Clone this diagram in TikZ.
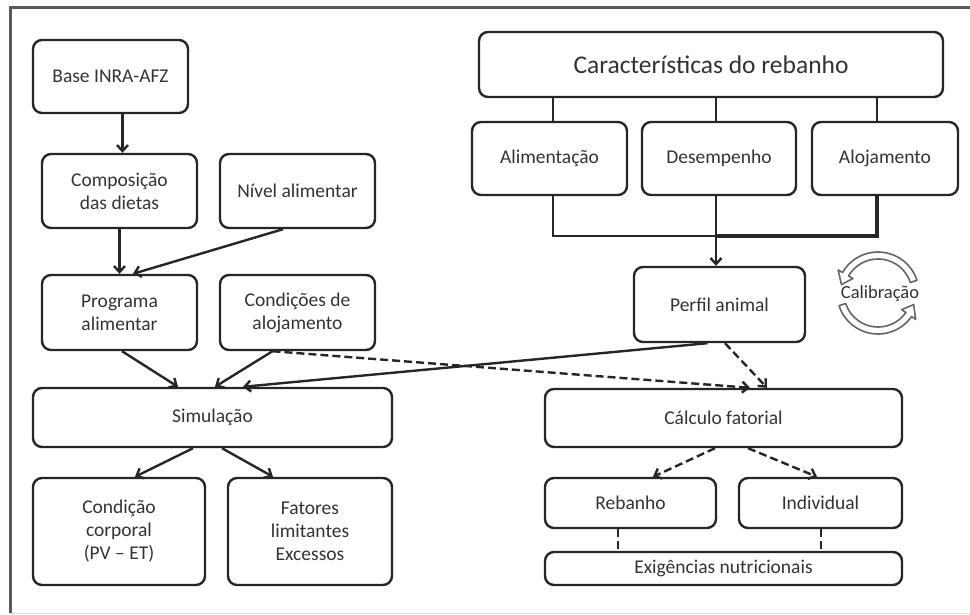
\documentclass[tikz,border=0pt]{standalone}
\usepackage{fontspec}
\setmainfont{Carlito}
\usetikzlibrary{calc, arrows.meta}
\definecolor{boxline}{HTML}{262626}
\definecolor{boxtext}{HTML}{333333}
\definecolor{framegray}{HTML}{5A5A5A}
\definecolor{calibgray}{HTML}{666666}
\tikzset{
	box/.style={draw=boxline, line width=2.4pt, rounded corners=9pt, text=boxtext, align=center, inner sep=0pt, font=\fontsize{19.5}{23}\selectfont},
	link/.style={draw=boxline, line width=2.4pt, -{Straight Barb[length=6pt, width=11pt, line width=2.4pt]}},
	plain/.style={draw=boxline, line width=2.4pt},
	dlink/.style={link, dash pattern=on 8pt off 4pt},
	calibarrow/.style={draw=calibgray, fill=white, line width=1.6pt, line join=round},
}

\begin{document}
\begin{tikzpicture}[x=1pt, y=-1pt]
	\useasboundingbox (0,0) rectangle (970,614);
	\draw[framegray, line width=3pt] (10,613) -- (10,7) -- (980,7);
	\draw[black!12, line width=1pt] (10,613) -- (980,613);

	% left column
	\node[box, minimum width=155pt, minimum height=73pt] (base) at (110.5,76.5) {Base INRA-AFZ};
	\node[box, minimum width=155pt, minimum height=74pt] (compo) at (119.5,191) {Composição\\das dietas};
	\node[box, minimum width=155pt, minimum height=74pt] (nivel) at (297.5,191) {Nível alimentar};
	\node[box, minimum width=155pt, minimum height=75pt] (prog) at (119.5,312.5) {Programa\\alimentar};
	\node[box, minimum width=155pt, minimum height=75pt] (cond) at (297.5,312.5) {Condições de\\alojamento};
	\node[box, minimum width=359pt, minimum height=59pt] (simul) at (212.5,417.5) {Simulação};
	\node[box, minimum width=172pt, minimum height=107pt] (corp) at (119,531.5) {Condição\\corporal\\(PV – ET)};
	\node[box, minimum width=164pt, minimum height=107pt] (fat) at (310,531.5) {Fatores\\limitantes\\Excessos};

	% right column
	\node[box, minimum width=464pt, minimum height=65pt, font=\fontsize{25.5}{30}\selectfont] (carac) at (711,64.5) {Características do rebanho};
	\node[box, minimum width=155pt, minimum height=73pt] (alim) at (549.5,158.5) {Alimentação};
	\node[box, minimum width=154pt, minimum height=73pt] (desemp) at (719,158.5) {Desempenho};
	\node[box, minimum width=146pt, minimum height=73pt] (aloj) at (885,158.5) {Alojamento};
	\node[box, minimum width=171pt, minimum height=75pt] (perfil) at (719.5,304.5) {Perfil animal};
	\node[box, minimum width=357pt, minimum height=58pt] (calc) at (723.5,418) {Cálculo fatorial};
	\node[box, minimum width=171pt, minimum height=50pt] (reb) at (630.5,503) {Rebanho};
	\node[box, minimum width=163pt, minimum height=50pt] (indiv) at (820.5,503) {Individual};
	\node[box, minimum width=357pt, minimum height=33pt] (exig) at (723.5,568.5) {Exigências nutricionais};

	% calibration loop
	\coordinate (calib) at (878,293);
	\draw[calibarrow] (calib) ++(18:41pt) arc[start angle=18, end angle=150, radius=41pt]
		-- ($(calib)+(150:46pt)$) -- ($(calib)+(167:37.5pt)$) -- ($(calib)+(150:29pt)$)
		-- ($(calib)+(150:34pt)$) arc[start angle=150, end angle=18, radius=34pt] -- cycle;
	\draw[calibarrow] (calib) ++(198:41pt) arc[start angle=198, end angle=325, radius=41pt]
		-- ($(calib)+(325:46pt)$) -- ($(calib)+(342:37.5pt)$) -- ($(calib)+(325:29pt)$)
		-- ($(calib)+(325:34pt)$) arc[start angle=325, end angle=198, radius=34pt] -- cycle;
	\node[text=boxtext, font=\fontsize{18.5}{22}\selectfont, inner sep=0pt] (calibtxt) at (880,294) {Calibração};

	% left connectors
	\draw[link] ([xshift=3pt]compo.north |- base.south) -- ([xshift=3pt]compo.north);
	\draw[link] (compo.south) -- (prog.north);
	\draw[link] ([xshift=-14.5pt]nivel.south) -- ([xshift=13.5pt]prog.north);
	\draw[link] ([xshift=2.5pt]prog.south) -- ([xshift=-34.5pt]simul.north);
	\draw[link] ([xshift=-25pt]cond.south) -- ([xshift=2.5pt]simul.north);
	\draw[link] ([xshift=-12pt]perfil.south) -- ([xshift=30.5pt]simul.north);
	\draw[link] ([xshift=-19.5pt]simul.south) -- ([xshift=16pt]corp.north);
	\draw[link] ([xshift=9.5pt]simul.south) -- ([xshift=-37pt]fat.north);

	% right connectors
	\draw[plain] ([xshift=3.5pt]alim.north) -- ([xshift=3.5pt]alim.north |- carac.south);
	\draw[plain] ([xshift=-3pt]desemp.north) -- ([xshift=-3pt]desemp.north |- carac.south);
	\draw[plain] ([xshift=-8pt]aloj.north) -- ([xshift=-8pt]aloj.north |- carac.south);
	\coordinate (join) at (716,236);
	\draw[plain] ([xshift=3.5pt]alim.south) |- (join);
	\draw[plain] ([xshift=-3pt]desemp.south) -- (join);
	\draw[plain, line width=3.8pt] ([xshift=-8pt]aloj.south) |- (join);
	\draw[link] (join) -- ([xshift=-3.5pt]perfil.north);

	\draw[dlink] ([xshift=-25pt]cond.south) -- ([xshift=26.5pt]calc.north);
	\draw[dlink] ([xshift=5.5pt]perfil.south) -- ([xshift=43.5pt]calc.north);
	\draw[dlink] ([xshift=-8.5pt]calc.south) -- ([xshift=22.5pt]reb.north);
	\draw[dlink] ([xshift=24.5pt]calc.south) -- ([xshift=-3.5pt]indiv.north);
	\draw[plain, dash pattern=on 8pt off 4pt] ([xshift=-12.5pt]reb.south) -- ([xshift=-12.5pt]reb.south |- exig.north);
	\draw[plain, dash pattern=on 8pt off 4pt] ([xshift=0.5pt]indiv.south) -- ([xshift=0.5pt]indiv.south |- exig.north);
\end{tikzpicture}
\end{document}
